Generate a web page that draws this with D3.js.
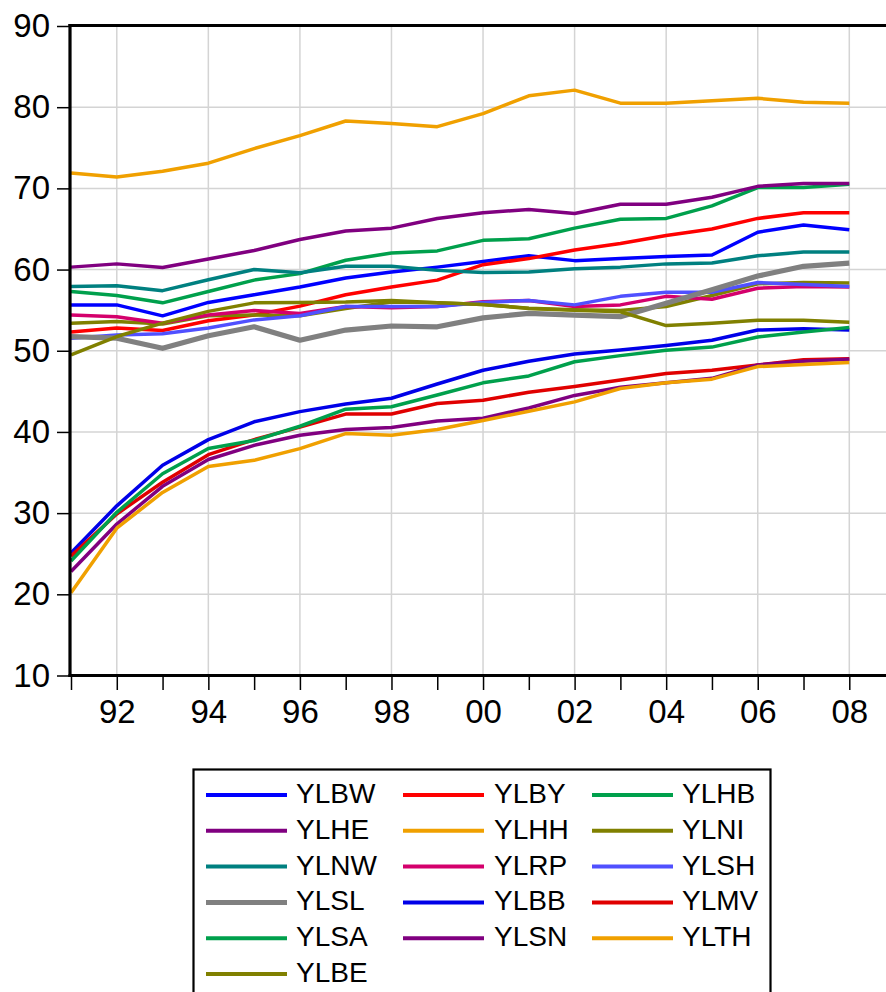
<!DOCTYPE html>
<html>
<head>
<meta charset="utf-8">
<script src="https://cdn.jsdelivr.net/npm/d3@7"></script>
<style>
  html, body { margin: 0; padding: 0; background: #fff; }
  svg { display: block; font-family: "Liberation Sans", Arial, sans-serif; }
</style>
</head>
<body>
<svg id="chart" width="886" height="992"></svg>
<script>
const years = [1991,1992,1993,1994,1995,1996,1997,1998,1999,2000,2001,2002,2003,2004,2005,2006,2007,2008];
const xTickYears = [1992,1994,1996,1998,2000,2002,2004,2006,2008];
const xTickLabels = ["92","94","96","98","00","02","04","06","08"];
const yTicks = [10,20,30,40,50,60,70,80,90];

const seriesNames = ["YLBW","YLBY","YLHB","YLHE","YLHH","YLNI","YLNW","YLRP","YLSH","YLSL","YLBB","YLMV","YLSA","YLSN","YLTH","YLBE"];
const seriesColors = ["#0000ff","#ff0000","#00a04c","#800080","#f0a000","#808000","#008080","#d4006c","#5050ff","#808080","#0000e8","#e00000","#00a04c","#800080","#f0a000","#808000"];

const YLBW = [55.65,55.65,54.3,55.95,56.9,57.85,58.95,59.7,60.3,61.0,61.7,61.1,61.35,61.6,61.8,64.6,65.5,64.9];
const YLBY = [52.3,52.8,52.5,53.7,54.4,55.5,56.9,57.85,58.7,60.6,61.35,62.4,63.2,64.2,65.0,66.3,67.0,67.0];
const YLHB = [57.3,56.8,55.9,57.3,58.7,59.5,61.15,62.05,62.3,63.6,63.8,65.1,66.2,66.3,67.85,70.1,70.1,70.5];
const YLHE = [60.3,60.7,60.25,61.3,62.35,63.7,64.75,65.1,66.3,67.0,67.4,66.9,68.05,68.05,68.9,70.25,70.6,70.6];
const YLHH = [71.9,71.4,72.1,73.1,74.9,76.5,78.3,78.0,77.6,79.2,81.4,82.1,80.5,80.5,80.8,81.1,80.6,80.5];
const YLNI = [53.4,53.6,53.3,54.3,54.4,54.3,55.2,56.0,55.9,55.7,55.25,55.05,54.95,55.45,56.8,58.25,58.4,58.35];
const YLNW = [57.9,58.0,57.4,58.75,60.0,59.6,60.4,60.4,59.9,59.65,59.7,60.1,60.3,60.7,60.8,61.7,62.15,62.15];
const YLRP = [54.4,54.2,53.4,54.4,54.95,54.6,55.45,55.3,55.45,56.05,56.2,55.45,55.65,56.7,56.35,57.7,57.9,57.85];
const YLSH = [51.55,51.95,52.1,52.8,53.8,54.3,55.45,55.45,55.45,55.95,56.2,55.65,56.7,57.2,57.2,58.4,58.15,57.9];
const YLSL = [51.75,51.55,50.3,51.85,52.95,51.3,52.55,53.05,52.95,54.05,54.6,54.4,54.2,55.85,57.5,59.2,60.4,60.8];
const YLBB = [25.1,30.9,35.9,39.05,41.25,42.5,43.45,44.15,45.9,47.6,48.7,49.6,50.1,50.65,51.3,52.55,52.7,52.55];
const YLMV = [24.7,29.9,33.8,37.2,39.05,40.6,42.2,42.2,43.5,43.9,44.9,45.6,46.4,47.2,47.6,48.25,48.9,49.0];
const YLSA = [24.1,30.1,34.85,37.95,38.95,40.7,42.8,43.1,44.55,46.05,46.9,48.65,49.4,50.05,50.45,51.7,52.3,52.85];
const YLSN = [22.8,28.65,33.3,36.6,38.35,39.6,40.3,40.55,41.35,41.7,42.95,44.5,45.5,46.05,46.6,48.25,48.7,48.95];
const YLTH = [20.2,28.15,32.55,35.75,36.5,37.95,39.8,39.6,40.3,41.4,42.55,43.7,45.35,46.05,46.5,48.05,48.3,48.55];
const YLBE = [49.5,51.75,53.4,54.85,55.9,55.95,56.0,56.2,55.9,55.7,55.2,55.0,54.8,53.1,53.4,53.75,53.75,53.5];

const seriesValues = [YLBW,YLBY,YLHB,YLHE,YLHH,YLNI,YLNW,YLRP,YLSH,YLSL,YLBB,YLMV,YLSA,YLSN,YLTH,YLBE];
const series = seriesNames.map((n, i) => ({
  name: n, color: seriesColors[i], values: seriesValues[i],
  width: n === "YLSL" ? 5.2 : 3.5
}));

const svg = d3.select("#chart");
svg.append("rect").attr("width", 886).attr("height", 992).attr("fill", "#fff");

const x = d3.scaleLinear().domain([1991, 2008]).range([71, 849.3]);
const y = d3.scaleLinear().domain([10, 90]).range([675.5, 26]);

// gridlines
const grid = svg.append("g");
grid.selectAll("line.h").data(yTicks.filter(t => t > 10 && t < 90)).enter().append("line")
  .attr("x1", 71).attr("x2", 886)
  .attr("y1", d => y(d)).attr("y2", d => y(d))
  .attr("stroke", "#d4d4d4").attr("stroke-width", 1.5);
grid.selectAll("line.v").data(xTickYears).enter().append("line")
  .attr("x1", d => x(d)).attr("x2", d => x(d))
  .attr("y1", 26).attr("y2", 675.5)
  .attr("stroke", "#d4d4d4").attr("stroke-width", 1.5);

// lines
const line = d3.line().x((d, i) => x(years[i])).y(d => y(d));
svg.append("g").selectAll("path").data(series).enter().append("path")
  .attr("d", d => line(d.values))
  .attr("fill", "none")
  .attr("stroke", d => d.color)
  .attr("stroke-width", d => d.width)
  .attr("stroke-linejoin", "round");

// axes
const yAxis = d3.axisLeft(y).tickValues(yTicks).tickSize(13).tickPadding(7).tickFormat(d3.format("d"));
const gy = svg.append("g").attr("transform", "translate(70,0)").call(yAxis);
gy.select(".domain").remove();
gy.selectAll(".tick line").attr("stroke", "#000").attr("stroke-width", 1.5);
gy.selectAll(".tick text").attr("font-size", 33).attr("fill", "#000")
  .attr("font-family", "'Liberation Sans', Arial, sans-serif");

const xAxis = d3.axisBottom(x).tickValues(years).tickSize(14).tickPadding(10)
  .tickFormat(d => { const k = xTickYears.indexOf(d); return k >= 0 ? xTickLabels[k] : ""; });
const gx = svg.append("g").attr("transform", "translate(0,676)").call(xAxis);
gx.select(".domain").remove();
gx.selectAll(".tick line").attr("stroke", "#000").attr("stroke-width", 1.5);
gx.selectAll(".tick text").attr("font-size", 33).attr("fill", "#000")
  .attr("font-family", "'Liberation Sans', Arial, sans-serif");

// frame
svg.append("line").attr("x1", 70).attr("x2", 70).attr("y1", 24).attr("y2", 677).attr("stroke", "#000").attr("stroke-width", 3.2);
svg.append("line").attr("x1", 68.5).attr("x2", 886).attr("y1", 675.5).attr("y2", 675.5).attr("stroke", "#000").attr("stroke-width", 3.2);
svg.append("line").attr("x1", 68.5).attr("x2", 886).attr("y1", 25.5).attr("y2", 25.5).attr("stroke", "#000").attr("stroke-width", 3.2);

// legend
const lg = svg.append("g");
lg.append("rect").attr("x", 193.5).attr("y", 769.5).attr("width", 577).attr("height", 240)
  .attr("fill", "#fff").attr("stroke", "#000").attr("stroke-width", 2.2);
const colSwatch = [206, 403, 592];
const colText = [296, 494, 682];
const items = lg.selectAll("g.item").data(series).enter().append("g")
  .attr("transform", (d, i) => `translate(0,${795 + Math.floor(i / 3) * 35.8})`);
items.append("line")
  .attr("x1", (d, i) => colSwatch[i % 3]).attr("x2", (d, i) => colSwatch[i % 3] + 81)
  .attr("y1", 0).attr("y2", 0)
  .attr("stroke", d => d.color).attr("stroke-width", d => d.name === "YLSL" ? 5 : 4);
items.append("text")
  .attr("x", (d, i) => colText[i % 3]).attr("y", 8)
  .attr("font-size", 28).attr("fill", "#000")
  .text(d => d.name);
</script>
</body>
</html>
